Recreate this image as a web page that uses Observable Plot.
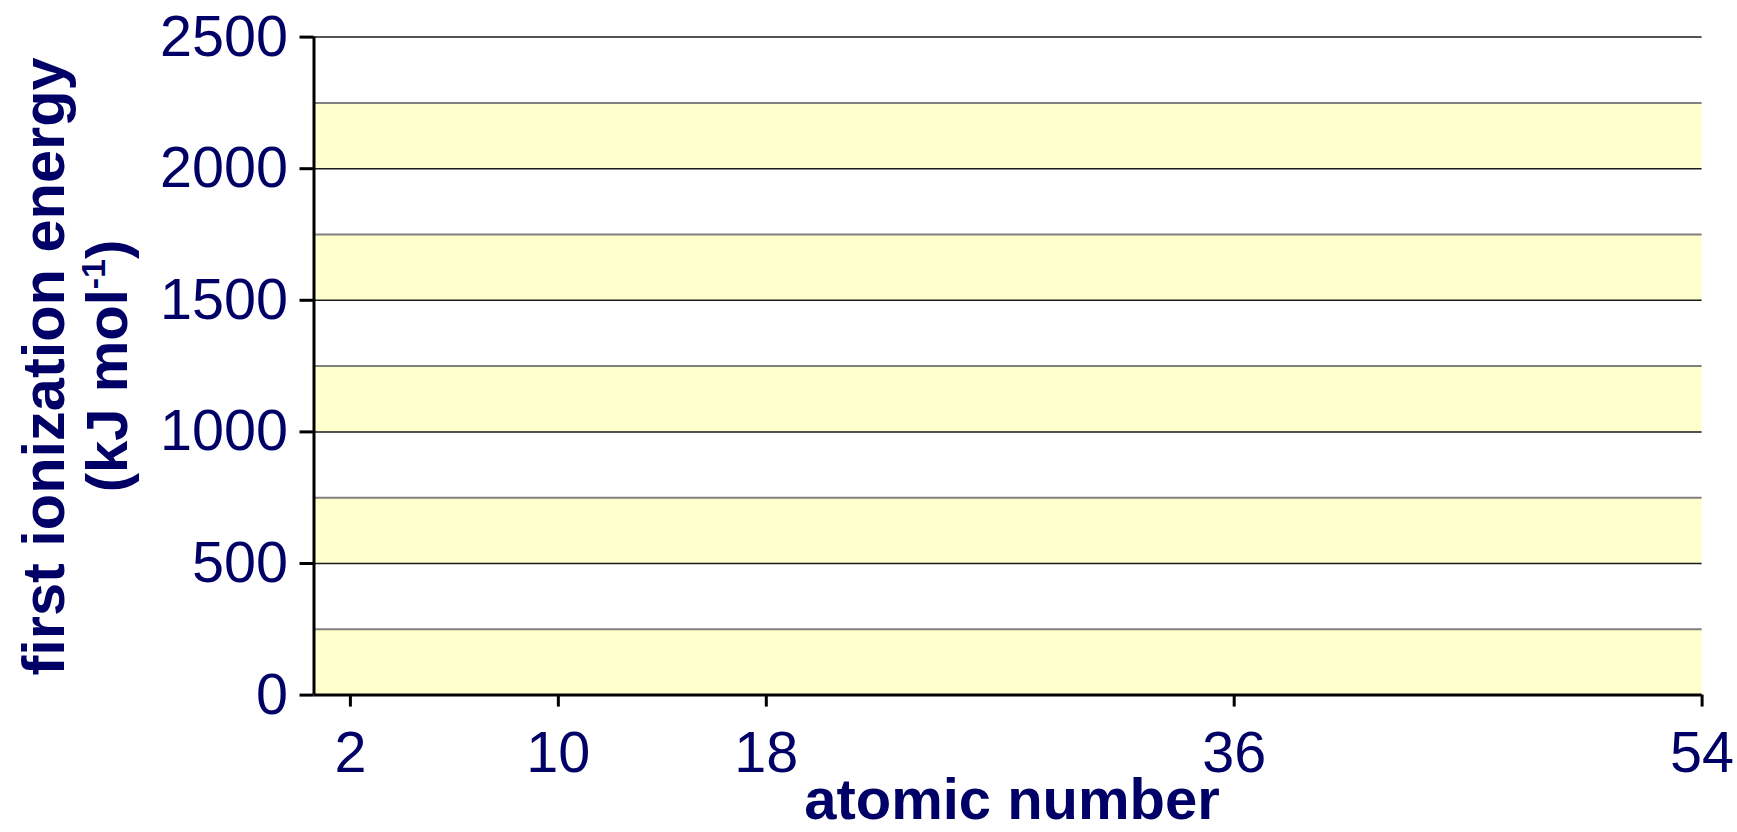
<!DOCTYPE html>
<html><head><meta charset="utf-8">
<script src="https://cdn.jsdelivr.net/npm/d3@7"></script>
<script src="https://cdn.jsdelivr.net/npm/@observablehq/plot@0.6"></script>
<style>
html,body{margin:0;padding:0;background:#fff;}
#chart svg{display:block;}
</style></head><body><div id="chart"></div>
<script>
const atomicNumberTicks = [2, 10, 18, 36, 54];
const energyTicks = [0, 500, 1000, 1500, 2000, 2500];
const bandStarts = [0, 500, 1000, 1500, 2000];
const bandEnds = [250, 750, 1250, 1750, 2250];
const minorGrid = [250, 750, 1250, 1750, 2250];
const majorGrid = [500, 1000, 1500, 2000, 2500];
const xTitle = "atomic number";
const yTitleLine1 = "first ionization energy";
const yTitleUnit = "(kJ mol";
const yTitleSup = "-1";
const yTitleClose = ")";
const xDomain = [0.6, 54];
const yDomain = [0, 2500];

const bands = bandStarts.map((s, i) => ({lo: s, hi: bandEnds[i]}));
const navy = "#000066";
const font = "'Liberation Sans', Arial, sans-serif";
const fmt = d3.format("d");

const chart = Plot.plot({
  width: 1737, height: 832,
  marginLeft: 313.5, marginRight: 35.4, marginTop: 36.6, marginBottom: 137.4,
  style: {fontFamily: font, background: "#fff", overflow: "visible"},
  x: {type: "linear", domain: xDomain},
  y: {type: "linear", domain: yDomain},
  marks: [
    Plot.rect(bands, {y1: "lo", y2: "hi", fill: "#ffffcc"}),
    Plot.ruleY(minorGrid, {stroke: "#808080", strokeWidth: 2}),
    Plot.ruleY(majorGrid, {stroke: "#1a1a1a", strokeWidth: 1.5}),
    Plot.axisY(energyTicks, {tickSize: 14, tickPadding: 12, stroke: "#000", strokeWidth: 3,
      fill: navy, fontSize: 57.5, tickFormat: fmt, label: null}),
    Plot.axisX(atomicNumberTicks, {tickSize: 12, tickPadding: 24, stroke: "#000", strokeWidth: 3,
      fill: navy, fontSize: 57.5, tickFormat: fmt, label: null}),
    Plot.ruleX([xDomain[0]], {stroke: "#000", strokeWidth: 3}),
    Plot.ruleY([yDomain[0]], {stroke: "#000", strokeWidth: 3})
  ]
});

const svg = d3.select(chart);
svg.append("text")
  .attr("x", 1012).attr("y", 819)
  .attr("text-anchor", "middle")
  .attr("font-family", font).attr("font-size", 58).attr("font-weight", "bold")
  .attr("fill", navy)
  .text(xTitle);

svg.append("text")
  .attr("transform", "translate(64,366.5) rotate(-90)")
  .attr("text-anchor", "middle")
  .attr("font-family", font).attr("font-size", 59.5).attr("font-weight", "bold")
  .attr("fill", navy)
  .text(yTitleLine1);

const unit = svg.append("text")
  .attr("transform", "translate(127,366) rotate(-90)")
  .attr("text-anchor", "middle")
  .attr("font-family", font).attr("font-size", 58).attr("font-weight", "bold")
  .attr("fill", navy);
unit.append("tspan").text(yTitleUnit);
unit.append("tspan").attr("font-size", 34).attr("dy", -22).text(yTitleSup);
unit.append("tspan").attr("font-size", 58).attr("dy", 22).text(yTitleClose);

document.getElementById("chart").append(chart);
</script>
</body></html>
